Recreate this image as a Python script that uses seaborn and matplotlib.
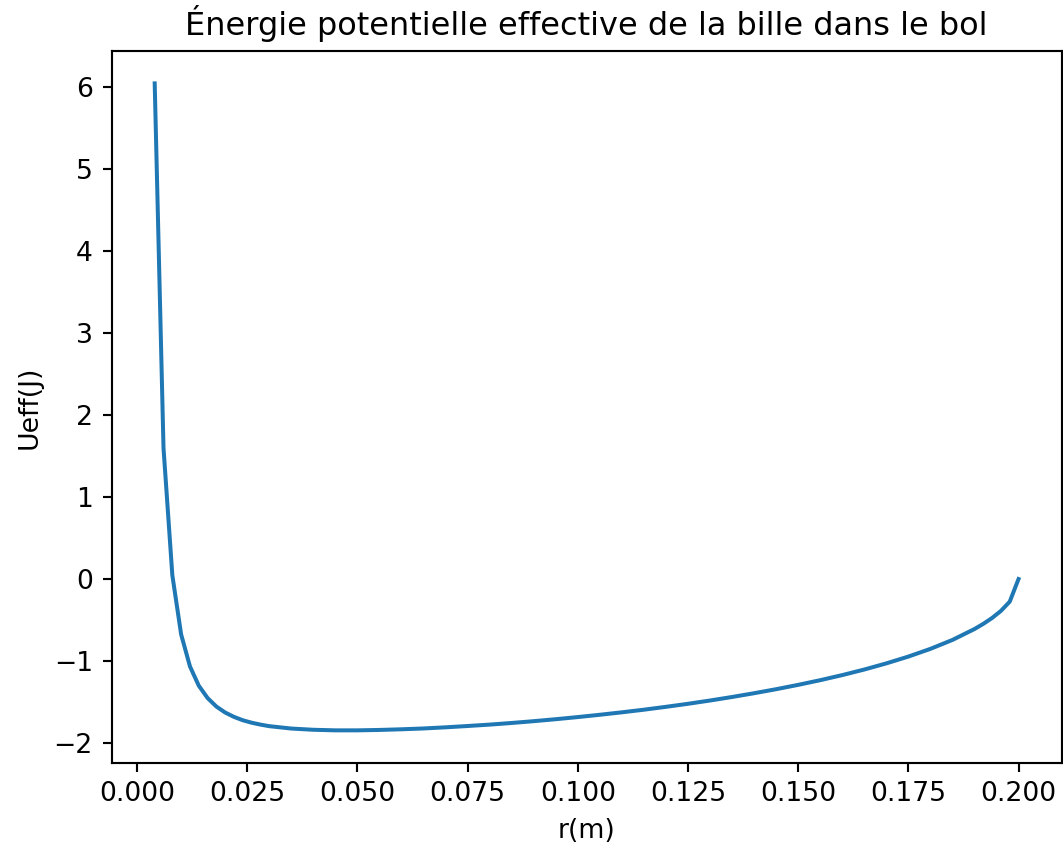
import matplotlib
matplotlib.use("Agg")
import matplotlib.pyplot as plt
import seaborn as sns
import pandas as pd

r_values = [0.004, 0.006, 0.008, 0.010, 0.012, 0.014, 0.016, 0.018, 0.020,
            0.022, 0.024, 0.026, 0.028, 0.030, 0.035, 0.040, 0.045, 0.050,
            0.055, 0.060, 0.065, 0.070, 0.075, 0.080, 0.085, 0.090, 0.095,
            0.100, 0.105, 0.110, 0.115, 0.120, 0.125, 0.130, 0.135, 0.140,
            0.145, 0.150, 0.155, 0.160, 0.165, 0.170, 0.175, 0.180, 0.185,
            0.190, 0.192, 0.194, 0.196, 0.198, 0.200]
ueff_values = [6.05, 1.60, 0.05, -0.673, -1.063, -1.298, -1.449, -1.553, -1.626,
               -1.679, -1.720, -1.750, -1.773, -1.792, -1.821, -1.836, -1.843, -1.843,
               -1.838, -1.830, -1.820, -1.806, -1.790, -1.773, -1.753, -1.731, -1.707,
               -1.681, -1.653, -1.623, -1.591, -1.556, -1.519, -1.479, -1.436, -1.390,
               -1.341, -1.288, -1.231, -1.169, -1.101, -1.026, -0.943, -0.849, -0.740,
               -0.607, -0.544, -0.472, -0.386, -0.273, 0.003]

title = "Énergie potentielle effective de la bille dans le bol"
xlabel = "r(m)"
ylabel = "Ueff(J)"

df = pd.DataFrame({"r": r_values, "U": ueff_values})

DPI = 192
fig = plt.figure(figsize=(1063 / DPI, 845 / DPI), dpi=DPI)
ax = fig.add_axes([0.1049, 0.0974, 0.8939, 0.8422])
sns.lineplot(data=df, x="r", y="U", ax=ax, color="#1f77b4", linewidth=1.5,
             sort=False, estimator=None)
ax.set_title(title)
ax.set_xlabel(xlabel)
ax.set_ylabel(ylabel)
ax.set_xticks([0.0, 0.025, 0.05, 0.075, 0.1, 0.125, 0.15, 0.175, 0.2])
ax.set_xticklabels(["0.000", "0.025", "0.050", "0.075", "0.100", "0.125",
                    "0.150", "0.175", "0.200"])
fig.savefig("out.png", dpi=DPI)
